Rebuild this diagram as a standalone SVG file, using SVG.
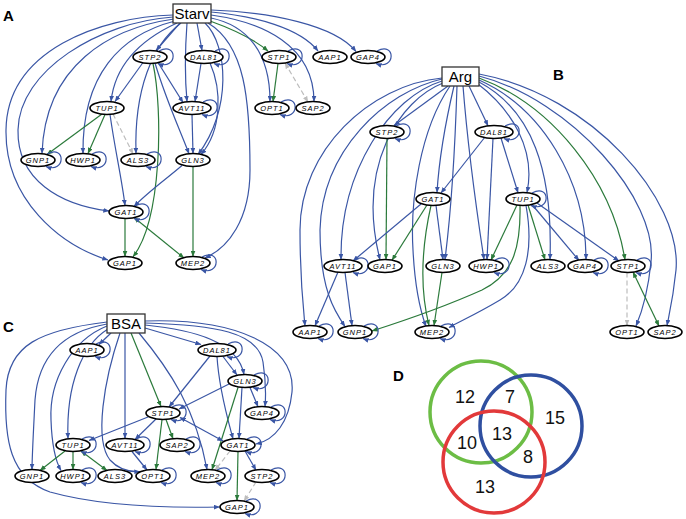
<svg xmlns="http://www.w3.org/2000/svg" xmlns:xlink="http://www.w3.org/1999/xlink" width="686" height="519" viewBox="0 0 686 519">
<style>
.n ellipse{fill:#fff;stroke:#000;stroke-width:1.6}
.n text{font-family:"Liberation Sans",Arial,sans-serif;font-style:italic;font-size:7.5px;letter-spacing:1px;text-anchor:middle;fill:#000}
.bx rect{fill:#fff;stroke:#333;stroke-width:1.3}
.bx text{font-family:"Liberation Sans",Arial,sans-serif;font-size:15px;text-anchor:middle;fill:#000}
.lab{font-family:"Liberation Sans",Arial,sans-serif;font-size:15px;font-weight:bold;fill:#000}
.e path,.e use{fill:none;stroke-width:1.2}
.b{stroke:#3a56a5;marker-end:url(#ab)}
.g{stroke:#2b7a3b;marker-end:url(#ag)}
.y{stroke:#bdbdbd;stroke-dasharray:5 3;marker-end:url(#ay)}
.bb{stroke:#3a56a5;marker-end:url(#ab);marker-start:url(#ab)}
.gg{stroke:#2b7a3b;marker-end:url(#ag);marker-start:url(#ag)}
.yy{stroke:#bdbdbd;stroke-dasharray:5 3;marker-end:url(#ay);marker-start:url(#ay)}
.v circle{fill:none;stroke-width:3.5}
.v text{font-family:"Liberation Sans",Arial,sans-serif;font-size:18px;text-anchor:middle;fill:#111}
</style>
<defs>
<marker id="ab" viewBox="0 0 10 8" refX="9.5" refY="4" markerWidth="6" markerHeight="5" markerUnits="userSpaceOnUse" orient="auto-start-reverse"><path d="M0,0 L10,4 L0,8 z" fill="#3a56a5"/></marker>
<marker id="ag" viewBox="0 0 10 8" refX="9.5" refY="4" markerWidth="6" markerHeight="5" markerUnits="userSpaceOnUse" orient="auto-start-reverse"><path d="M0,0 L10,4 L0,8 z" fill="#2b7a3b"/></marker>
<marker id="ay" viewBox="0 0 10 8" refX="9.5" refY="4" markerWidth="6" markerHeight="5" markerUnits="userSpaceOnUse" orient="auto-start-reverse"><path d="M0,0 L10,4 L0,8 z" fill="#bdbdbd"/></marker>
<path id="lp" d="M9,-6 C28,-16 28,14 8,6.5"/>
<path id="lp5" d="M11,-6 C30,-16 30,14 10,6.5"/>
</defs>

<text class="lab" x="3" y="21">A</text>
<text class="lab" x="553" y="80">B</text>
<text class="lab" x="3" y="332">C</text>
<text class="lab" x="393" y="381">D</text>

<g id="connectors" class="e">
<!-- Panel A -->
<path class="b" d="M180,23 L156,50.5"/>
<path class="b" d="M197,23 L202,50.5"/>
<path class="b" d="M187,23 C185,50 185,80 187,101.5"/>
<path class="b" d="M173,15 C100,17 7,50 6,130 C5,200 60,245 108,260"/>
<path class="b" d="M173,17 C100,22 19,70 18,130 C17,180 60,205 109,211"/>
<path class="b" d="M174,19 C110,28 45,65 42,153.5"/>
<path class="b" d="M175,21 C120,35 82,75 83,153.5"/>
<path class="b" d="M177,23 C140,40 115,65 111,101.5"/>
<path class="b" d="M181,23 C152,45 134,90 136,153.5"/>
<path class="b" d="M205,23 C228,45 232,110 198,154.5"/>
<path class="b" d="M208,23 C245,45 250,100 250,170 C250,220 228,248 205,258"/>
<path class="g" d="M210,21 C235,30 255,40 268,51"/>
<path class="b" d="M211,18 C245,25 270,50 270,101.5"/>
<path class="b" d="M211,15 C262,22 314,45 314,101.5"/>
<path class="b" d="M211,12 C255,16 300,28 318,51"/>
<path class="b" d="M211,10 C270,12 335,25 356,51.5"/>
<path class="b" d="M143,62.5 L115,101.5"/>
<path class="b" d="M158,62.5 L183,102.5"/>
<path class="b" d="M155,63 C166,100 180,130 189,153.8"/>
<path class="g" d="M153,63.5 C163,110 162,220 133,256.8"/>
<path class="b" d="M201,63.5 L195,101.5"/>
<path class="b" d="M210,63 C222,90 222,130 201,154.5"/>
<path class="g" d="M278,63.5 L273,101.5"/>
<path class="yy" d="M285,63 L308,102"/>
<path class="g" d="M102,114 L47,154.5"/>
<path class="g" d="M105,114.5 L88,153.5"/>
<path class="y" d="M113,114 L133,153.8"/>
<path class="b" d="M110,114.5 C115,150 122,180 125,205.5"/>
<path class="b" d="M192,114.5 L193,153.5"/>
<path class="b" d="M182,165.5 C165,180 148,192 134,206.5"/>
<path class="g" d="M193,166.5 L193,256.5"/>
<path class="g" d="M125,218.5 L125,256.5"/>
<path class="gg" d="M134,217.5 L184,258"/>
<use class="b" xlink:href="#lp" x="150" y="57"/>
<use class="b" xlink:href="#lp5" x="204" y="57"/>
<use class="b" xlink:href="#lp" x="279" y="57"/>
<use class="b" xlink:href="#lp" x="368" y="57"/>
<use class="b" xlink:href="#lp5" x="192" y="108"/>
<use class="b" xlink:href="#lp" x="272" y="108"/>
<use class="b" xlink:href="#lp" x="38" y="160"/>
<use class="b" xlink:href="#lp" x="83" y="160"/>
<use class="b" xlink:href="#lp" x="138" y="160"/>
<use class="b" xlink:href="#lp" x="126" y="212"/>
<use class="b" xlink:href="#lp" x="193" y="263"/>
<!-- Panel B -->
<path class="b" d="M448,86 L394,125.5"/>
<path class="b" d="M469,86 L488,125.8"/>
<path class="b" d="M454,86 C446,120 439,160 437,192.5"/>
<path class="b" d="M457,86 C455,150 450,220 445,259.5"/>
<path class="b" d="M463,86 C468,150 478,220 484,259.5"/>
<path class="b" d="M478,84 C512,110 536,150 527,192.5"/>
<path class="b" d="M479,82 C532,110 553,170 550,259.5"/>
<path class="b" d="M479,80 C542,108 586,180 586,259.5"/>
<path class="g" d="M479,78 C552,105 612,180 625,259.8"/>
<path class="b" d="M479,76 C572,100 658,200 651,262 C648,292 642,312 636,326"/>
<path class="b" d="M479,74 C592,95 682,200 676,270 C673,300 669,315 667,325.5"/>
<path class="b" d="M442,78 C370,85 300,150 300,230 C300,280 303,305 305,325.8"/>
<path class="b" d="M442,79 C385,92 322,150 320,230 C320,290 335,312 345,326.5"/>
<path class="b" d="M442,81 C390,97 340,170 341,259.5"/>
<path class="b" d="M443,83 C400,100 356,165 380,259.8"/>
<path class="b" d="M450,86 C420,130 410,200 413,250 C415,290 420,310 426,326.5"/>
<path class="b" d="M485,137 L441,193"/>
<path class="b" d="M493,138.5 L487,259.5"/>
<path class="b" d="M501,138 L518,192.8"/>
<path class="g" d="M387,138.5 L386,259.5"/>
<path class="b" d="M421,204 L353,261"/>
<path class="g" d="M427,205 L392,260.3"/>
<path class="b" d="M436,205.5 L443,259.5"/>
<path class="g" d="M431,205.5 C421,250 420,290 429,325.5"/>
<path class="g" d="M442,272.5 L434,325.5"/>
<path class="g" d="M517,205 L491,260"/>
<path class="g" d="M520,205.5 C521,250 512,275 482,290 C442,308 400,322 372,331"/>
<path class="b" d="M526,205.5 C534,250 526,285 500,300 C480,312 463,320 449,327.5"/>
<path class="g" d="M528,205 L545,259.8"/>
<path class="b" d="M532,204.5 L579,260.5"/>
<path class="b" d="M537,203 L619,261"/>
<path class="y" d="M627,272.5 L627,325.5"/>
<path class="gg" d="M633,272 L659,326"/>
<path class="b" d="M338,272 L315,325.8"/>
<path class="b" d="M345,272.5 L352,325.5"/>
<use class="b" xlink:href="#lp" x="387" y="132"/>
<use class="b" xlink:href="#lp5" x="494" y="132"/>
<use class="b" xlink:href="#lp" x="523" y="199"/>
<use class="b" xlink:href="#lp5" x="343" y="266"/>
<use class="b" xlink:href="#lp" x="486" y="266"/>
<use class="b" xlink:href="#lp" x="585" y="266"/>
<use class="b" xlink:href="#lp" x="628" y="266"/>
<use class="b" xlink:href="#lp" x="310" y="332"/>
<use class="b" xlink:href="#lp" x="355" y="332"/>
<use class="b" xlink:href="#lp" x="432" y="332"/>
<!-- Panel C -->
<path class="b" d="M111,333 L99,344.5"/>
<path class="b" d="M145,328 L201,344.5"/>
<path class="g" d="M131,333 L161,406.5"/>
<path class="b" d="M139,333 C170,370 196,410 207,469.5"/>
<path class="b" d="M125,333 L125,438.5"/>
<path class="b" d="M120,333 C104,380 94,440 110,460 C119,470 130,472 140,471.5"/>
<path class="b" d="M108,329 C82,345 66,385 68,438.5"/>
<path class="b" d="M107,326 C72,340 49,380 51,420 C52,448 56,462 61,470.5"/>
<path class="b" d="M107,324 C60,332 38,360 35,400 C33,440 32,458 32,469.5"/>
<path class="b" d="M107,322 C40,330 8,345 6,390 C4,440 10,478 50,492 C100,506 170,508 219.5,507"/>
<path class="b" d="M145,325 C195,330 238,342 244,374.5"/>
<path class="b" d="M145,323 C215,325 258,332 263,362 C266,382 266,395 265,406.5"/>
<path class="b" d="M145,321 C235,318 296,345 292,392 C289,422 275,440 256,444"/>
<path class="b" d="M210,356 L169,407"/>
<path class="b" d="M223,356.5 L237,375"/>
<path class="b" d="M217,356.5 C219,390 228,420 233,438.8"/>
<path class="b" d="M229,384 L179,409"/>
<path class="b" d="M250,387.5 L258,406.7"/>
<path class="b" d="M242,387.5 L239,438.5"/>
<path class="g" d="M238,387.5 L212,469.8"/>
<path class="b" d="M148,417 L89,440.5"/>
<path class="b" d="M156,419 L135,439.5"/>
<path class="g" d="M166,419.5 L173,438.7"/>
<path class="g" d="M162,419.5 L156,469.5"/>
<path class="bb" d="M223,441 L180,417.5"/>
<path class="g" d="M65,451 L40,470.5"/>
<path class="g" d="M73,451.5 L73,469.5"/>
<path class="gg" d="M81,451 L107,470.5"/>
<path class="b" d="M132,451.5 L147,470"/>
<path class="y" d="M230,451 L215,470.3"/>
<path class="b" d="M245,451 L256,470.2"/>
<path class="g" d="M238,451.5 L237,500.5"/>
<path class="y" d="M256,482 L244,501.2"/>
<use class="b" xlink:href="#lp" x="87" y="350"/>
<use class="b" xlink:href="#lp5" x="217" y="350"/>
<use class="b" xlink:href="#lp" x="245" y="381"/>
<use class="b" xlink:href="#lp" x="163" y="413"/>
<use class="b" xlink:href="#lp" x="262" y="413"/>
<use class="b" xlink:href="#lp" x="73" y="445"/>
<use class="b" xlink:href="#lp5" x="125" y="445"/>
<use class="b" xlink:href="#lp" x="177" y="445"/>
<use class="b" xlink:href="#lp" x="238" y="445"/>
<use class="b" xlink:href="#lp" x="73" y="476"/>
<use class="b" xlink:href="#lp" x="153" y="476"/>
<use class="b" xlink:href="#lp" x="208" y="476"/>
<use class="b" xlink:href="#lp" x="262" y="476"/>
<use class="b" xlink:href="#lp" x="237" y="507"/>
</g>

<!-- Panel A nodes -->
<g id="a-starv" class="bx"><rect x="173" y="4" width="38" height="19"/><text x="192" y="19">Starv</text></g>
<g id="a-stp2" class="n"><ellipse cx="150" cy="57" rx="17" ry="6.5"/><text x="150" y="59.7">STP2</text></g>
<g id="a-dal81" class="n"><ellipse cx="204" cy="57" rx="19" ry="6.5"/><text x="204" y="59.7">DAL81</text></g>
<g id="a-stp1" class="n"><ellipse cx="279" cy="57" rx="17" ry="6.5"/><text x="279" y="59.7">STP1</text></g>
<g id="a-aap1" class="n"><ellipse cx="330" cy="57" rx="17" ry="6.5"/><text x="330" y="59.7">AAP1</text></g>
<g id="a-gap4" class="n"><ellipse cx="368" cy="57" rx="17" ry="6.5"/><text x="368" y="59.7">GAP4</text></g>
<g id="a-tup1" class="n"><ellipse cx="107" cy="108" rx="17" ry="6.5"/><text x="107" y="110.7">TUP1</text></g>
<g id="a-avt11" class="n"><ellipse cx="192" cy="108" rx="19" ry="6.5"/><text x="192" y="110.7">AVT11</text></g>
<g id="a-opt1" class="n"><ellipse cx="272" cy="108" rx="17" ry="6.5"/><text x="272" y="110.7">OPT1</text></g>
<g id="a-sap2" class="n"><ellipse cx="313" cy="108" rx="17" ry="6.5"/><text x="313" y="110.7">SAP2</text></g>
<g id="a-gnp1" class="n"><ellipse cx="38" cy="160" rx="17" ry="6.5"/><text x="38" y="162.7">GNP1</text></g>
<g id="a-hwp1" class="n"><ellipse cx="83" cy="160" rx="17" ry="6.5"/><text x="83" y="162.7">HWP1</text></g>
<g id="a-als3" class="n"><ellipse cx="138" cy="160" rx="17" ry="6.5"/><text x="138" y="162.7">ALS3</text></g>
<g id="a-gln3" class="n"><ellipse cx="193" cy="160" rx="17" ry="6.5"/><text x="193" y="162.7">GLN3</text></g>
<g id="a-gat1" class="n"><ellipse cx="126" cy="212" rx="17" ry="6.5"/><text x="126" y="214.7">GAT1</text></g>
<g id="a-gap1" class="n"><ellipse cx="125" cy="263" rx="17" ry="6.5"/><text x="125" y="265.7">GAP1</text></g>
<g id="a-mep2" class="n"><ellipse cx="193" cy="263" rx="17" ry="6.5"/><text x="193" y="265.7">MEP2</text></g>

<!-- Panel B nodes -->
<g id="b-arg" class="bx"><rect x="442" y="67" width="37" height="19"/><text x="460.5" y="82">Arg</text></g>
<g id="b-stp2" class="n"><ellipse cx="387" cy="132" rx="17" ry="6.5"/><text x="387" y="134.7">STP2</text></g>
<g id="b-dal81" class="n"><ellipse cx="494" cy="132" rx="19" ry="6.5"/><text x="494" y="134.7">DAL81</text></g>
<g id="b-gat1" class="n"><ellipse cx="433" cy="199" rx="17" ry="6.5"/><text x="433" y="201.7">GAT1</text></g>
<g id="b-tup1" class="n"><ellipse cx="523" cy="199" rx="17" ry="6.5"/><text x="523" y="201.7">TUP1</text></g>
<g id="b-avt11" class="n"><ellipse cx="343" cy="266" rx="19" ry="6.5"/><text x="343" y="268.7">AVT11</text></g>
<g id="b-gap1" class="n"><ellipse cx="385" cy="266" rx="17" ry="6.5"/><text x="385" y="268.7">GAP1</text></g>
<g id="b-gln3" class="n"><ellipse cx="443" cy="266" rx="17" ry="6.5"/><text x="443" y="268.7">GLN3</text></g>
<g id="b-hwp1" class="n"><ellipse cx="486" cy="266" rx="17" ry="6.5"/><text x="486" y="268.7">HWP1</text></g>
<g id="b-als3" class="n"><ellipse cx="548" cy="266" rx="17" ry="6.5"/><text x="548" y="268.7">ALS3</text></g>
<g id="b-gap4" class="n"><ellipse cx="585" cy="266" rx="17" ry="6.5"/><text x="585" y="268.7">GAP4</text></g>
<g id="b-stp1" class="n"><ellipse cx="628" cy="266" rx="17" ry="6.5"/><text x="628" y="268.7">STP1</text></g>
<g id="b-aap1" class="n"><ellipse cx="310" cy="332" rx="17" ry="6.5"/><text x="310" y="334.7">AAP1</text></g>
<g id="b-gnp1" class="n"><ellipse cx="355" cy="332" rx="17" ry="6.5"/><text x="355" y="334.7">GNP1</text></g>
<g id="b-mep2" class="n"><ellipse cx="432" cy="332" rx="17" ry="6.5"/><text x="432" y="334.7">MEP2</text></g>
<g id="b-opt1" class="n"><ellipse cx="627" cy="332" rx="17" ry="6.5"/><text x="627" y="334.7">OPT1</text></g>
<g id="b-sap2" class="n"><ellipse cx="665" cy="332" rx="17" ry="6.5"/><text x="665" y="334.7">SAP2</text></g>

<!-- Panel C nodes -->
<g id="c-bsa" class="bx"><rect x="107" y="314" width="38" height="19"/><text x="126" y="329">BSA</text></g>
<g id="c-aap1" class="n"><ellipse cx="87" cy="350" rx="17" ry="6.5"/><text x="87" y="352.7">AAP1</text></g>
<g id="c-dal81" class="n"><ellipse cx="217" cy="350" rx="19" ry="6.5"/><text x="217" y="352.7">DAL81</text></g>
<g id="c-gln3" class="n"><ellipse cx="245" cy="381" rx="17" ry="6.5"/><text x="245" y="383.7">GLN3</text></g>
<g id="c-stp1" class="n"><ellipse cx="163" cy="413" rx="17" ry="6.5"/><text x="163" y="415.7">STP1</text></g>
<g id="c-gap4" class="n"><ellipse cx="262" cy="413" rx="17" ry="6.5"/><text x="262" y="415.7">GAP4</text></g>
<g id="c-tup1" class="n"><ellipse cx="73" cy="445" rx="17" ry="6.5"/><text x="73" y="447.7">TUP1</text></g>
<g id="c-avt11" class="n"><ellipse cx="125" cy="445" rx="19" ry="6.5"/><text x="125" y="447.7">AVT11</text></g>
<g id="c-sap2" class="n"><ellipse cx="177" cy="445" rx="17" ry="6.5"/><text x="177" y="447.7">SAP2</text></g>
<g id="c-gat1" class="n"><ellipse cx="238" cy="445" rx="17" ry="6.5"/><text x="238" y="447.7">GAT1</text></g>
<g id="c-gnp1" class="n"><ellipse cx="32" cy="476" rx="17" ry="6.5"/><text x="32" y="478.7">GNP1</text></g>
<g id="c-hwp1" class="n"><ellipse cx="73" cy="476" rx="17" ry="6.5"/><text x="73" y="478.7">HWP1</text></g>
<g id="c-als3" class="n"><ellipse cx="115" cy="476" rx="17" ry="6.5"/><text x="115" y="478.7">ALS3</text></g>
<g id="c-opt1" class="n"><ellipse cx="153" cy="476" rx="17" ry="6.5"/><text x="153" y="478.7">OPT1</text></g>
<g id="c-mep2" class="n"><ellipse cx="208" cy="476" rx="17" ry="6.5"/><text x="208" y="478.7">MEP2</text></g>
<g id="c-stp2" class="n"><ellipse cx="262" cy="476" rx="17" ry="6.5"/><text x="262" y="478.7">STP2</text></g>
<g id="c-gap1" class="n"><ellipse cx="237" cy="507" rx="17" ry="6.5"/><text x="237" y="509.7">GAP1</text></g>

<!-- Panel D Venn -->
<g id="venn" class="v">
<circle cx="481" cy="412" r="51" stroke="#6cbd45"/>
<circle cx="531" cy="426" r="51" stroke="#2f4fa0"/>
<circle cx="494" cy="462" r="51" stroke="#e2393a"/>
<text x="465" y="403">12</text>
<text x="510" y="403">7</text>
<text x="555" y="424">15</text>
<text x="467" y="449">10</text>
<text x="502" y="440">13</text>
<text x="528" y="463">8</text>
<text x="485" y="493">13</text>
</g>
</svg>
